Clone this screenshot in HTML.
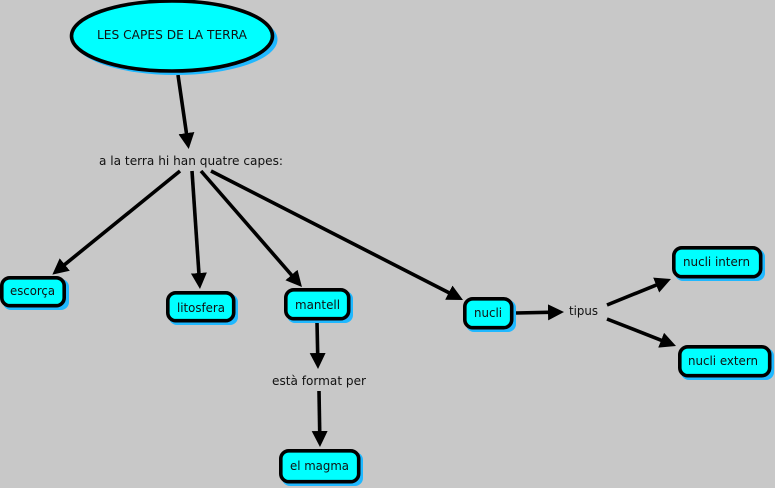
<!DOCTYPE html>
<html><head><meta charset="utf-8"><style>
html,body{margin:0;padding:0;background:#c8c8c8}
svg{display:block}
text{font-family:"DejaVu Sans",sans-serif;font-size:12px;fill:#111}
.s{fill:#1fb8ff}
.n{fill:#00ffff;stroke:#000;stroke-width:3.6}
line{stroke:#000;stroke-width:3.6;marker-end:url(#a)}
</style></head><body>
<svg width="775" height="488" viewBox="0 0 775 488" xmlns="http://www.w3.org/2000/svg">
<defs><marker id="a" markerUnits="userSpaceOnUse" markerWidth="18" markerHeight="18" refX="6" refY="8" orient="auto"><polygon points="0,0 16,8 0,16" fill="#000"/></marker></defs>
<rect width="775" height="488" fill="#c8c8c8"/>
<line x1="178" y1="75" x2="187.3" y2="139.1"/>
<line x1="180" y1="171" x2="60.1" y2="268.3"/>
<line x1="192" y1="171" x2="199.3" y2="279"/>
<line x1="201" y1="171" x2="295.4" y2="279.5"/>
<line x1="211" y1="171" x2="454.1" y2="295.4"/>
<line x1="317" y1="322" x2="317.8" y2="359"/>
<line x1="319" y1="391" x2="319.8" y2="437"/>
<line x1="516" y1="313" x2="554" y2="312.2"/>
<line x1="607" y1="305" x2="661.7" y2="282.8"/>
<line x1="607" y1="319" x2="666.7" y2="342.4"/>
<ellipse class="s" cx="175.5" cy="39.5" rx="102" ry="35.5"/>
<ellipse class="n" cx="172" cy="36" rx="100.5" ry="35"/>
<rect class="s" x="3" y="279" width="66" height="31" rx="8"/><rect class="n" x="1.8" y="277.8" width="62.4" height="27.9" rx="8"/>
<rect class="s" x="169" y="294" width="69" height="31" rx="8"/><rect class="n" x="167.8" y="292.8" width="65.9" height="27.9" rx="8"/>
<rect class="s" x="287" y="291" width="66" height="32" rx="8"/><rect class="n" x="285.8" y="289.8" width="62.9" height="28.9" rx="8"/>
<rect class="s" x="282" y="452" width="81" height="34" rx="8"/><rect class="n" x="280.8" y="450.8" width="77.9" height="30.9" rx="8"/>
<rect class="s" x="466" y="300" width="50" height="32" rx="8"/><rect class="n" x="464.8" y="298.8" width="46.9" height="28.9" rx="8"/>
<rect class="s" x="675" y="249" width="90" height="32" rx="8"/><rect class="n" x="673.8" y="247.8" width="86.9" height="28.9" rx="8"/>
<rect class="s" x="681" y="348" width="93" height="32" rx="8"/><rect class="n" x="679.8" y="346.8" width="89.9" height="28.9" rx="8"/>
<text x="97" y="39" textLength="150" lengthAdjust="spacingAndGlyphs">LES CAPES DE LA TERRA</text>
<text x="99" y="165" textLength="184" lengthAdjust="spacingAndGlyphs">a la terra hi han quatre capes:</text>
<text x="10" y="295" textLength="45" lengthAdjust="spacingAndGlyphs">escorça</text>
<text x="177" y="312" textLength="48" lengthAdjust="spacingAndGlyphs">litosfera</text>
<text x="295" y="309" textLength="45" lengthAdjust="spacingAndGlyphs">mantell</text>
<text x="272" y="385" textLength="94" lengthAdjust="spacingAndGlyphs">està format per</text>
<text x="290" y="470" textLength="59" lengthAdjust="spacingAndGlyphs">el magma</text>
<text x="474" y="317" textLength="28" lengthAdjust="spacingAndGlyphs">nucli</text>
<text x="569" y="315" textLength="29" lengthAdjust="spacingAndGlyphs">tipus</text>
<text x="683" y="266" textLength="67" lengthAdjust="spacingAndGlyphs">nucli intern</text>
<text x="688" y="365" textLength="70" lengthAdjust="spacingAndGlyphs">nucli extern</text>
</svg>
</body></html>
